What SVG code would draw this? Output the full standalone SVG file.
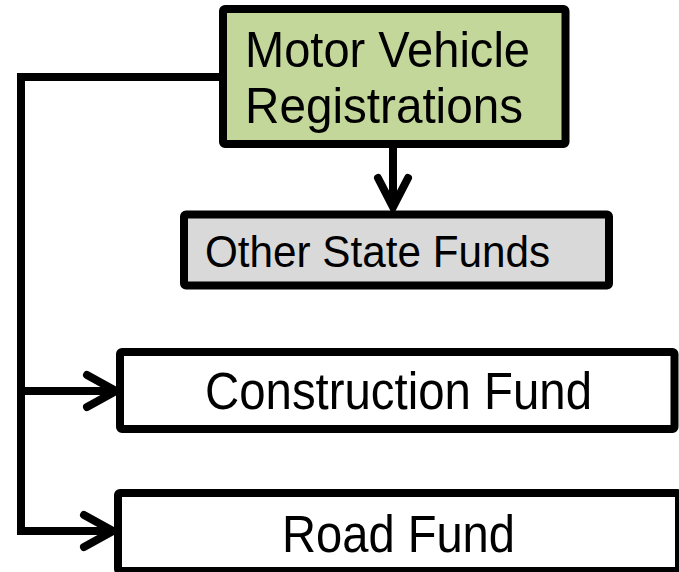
<svg xmlns="http://www.w3.org/2000/svg" width="679" height="572" viewBox="0 0 679 572">
<style>
.box{stroke:#000;stroke-width:8;}
.t{font-family:"Liberation Sans",Arial,sans-serif;fill:#000;}
.c{fill:none;stroke:#000;stroke-width:8;}
.h{fill:none;stroke:#000;stroke-width:8;stroke-linecap:round;stroke-linejoin:miter;}
</style>
<rect width="679" height="572" fill="#fff"/>
<g id="connectors">
<path class="c" d="M219,77 H21 V531 H110" stroke-linecap="square"/>
<path class="c" d="M21,391 H113"/>
<path class="h" d="M87,375 L116,391 L87,407"/>
<path class="h" d="M84,515 L113,531 L84,547"/>
<path class="c" d="M393,148 V205"/>
<path class="h" d="M378,178 L393,207 L408,178"/>
</g>
<g id="motor">
<rect class="box" x="223" y="9" width="342.5" height="135" rx="2" fill="#c4d79b"/>
<text class="t" x="245" y="67" font-size="50" textLength="285" lengthAdjust="spacingAndGlyphs">Motor Vehicle</text>
<text class="t" x="245" y="123" font-size="50" textLength="278" lengthAdjust="spacingAndGlyphs">Registrations</text>
</g>
<g id="other">
<rect class="box" x="184" y="214.5" width="425" height="71" rx="2" fill="#d9d9d9"/>
<text class="t" x="205" y="267" font-size="45" textLength="345" lengthAdjust="spacingAndGlyphs">Other State Funds</text>
</g>
<g id="construction">
<rect class="box" x="120" y="352" width="554.5" height="77" rx="2" fill="#fff"/>
<text class="t" x="205" y="409" font-size="51" textLength="387" lengthAdjust="spacingAndGlyphs">Construction Fund</text>
</g>
<g id="road">
<rect class="box" x="118" y="493" width="561" height="78" rx="2" fill="#fff"/>
<text class="t" x="282" y="552" font-size="51" textLength="233" lengthAdjust="spacingAndGlyphs">Road Fund</text>
</g>
</svg>
